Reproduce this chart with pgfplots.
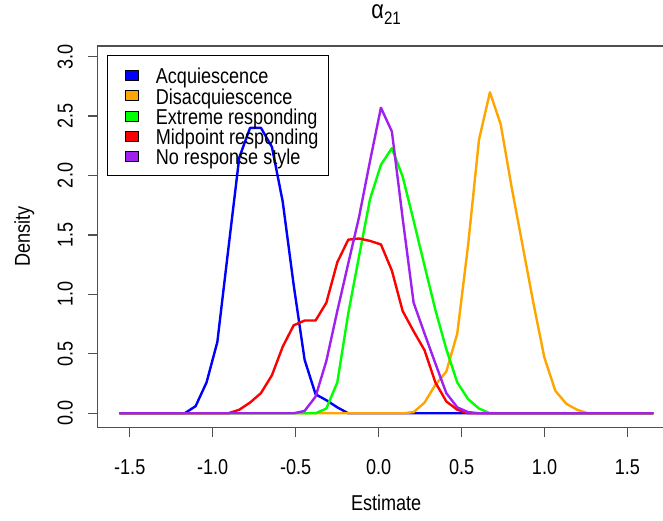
\documentclass[border=0pt]{standalone}
\usepackage{fontspec}
\setmainfont{Liberation Sans}[FakeStretch=0.84]
\usepackage{pgfplots}
\pgfplotsset{compat=1.18}
\usepackage{pgfplotstable}

\definecolor{rblue}{RGB}{0,0,255}
\definecolor{rorange}{RGB}{255,165,0}
\definecolor{rgreen}{RGB}{0,255,0}
\definecolor{rred}{RGB}{255,0,0}
\definecolor{rpurple}{RGB}{160,32,240}
\definecolor{framegray}{RGB}{80,80,80}

\newcommand\fs{\fontsize{21.5pt}{25pt}\selectfont}

% posterior density of alpha_21 under each response-style condition
\pgfplotstableread{
x      acq   dis   ext   mid   none
-1.563 0     0     0     0     0
-1.497 0     0     0     0     0
-1.431 0     0     0     0     0
-1.366 0     0     0     0     0
-1.300 0     0     0     0     0
-1.234 0     0     0     0     0
-1.169 0     0     0     0     0
-1.103 0.06  0     0     0     0
-1.037 0.26  0     0     0     0
-0.972 0.60  0     0     0     0
-0.906 1.38  0     0     0     0
-0.840 2.15  0     0     0.03  0
-0.775 2.40  0     0     0.09  0
-0.709 2.40  0     0     0.17  0
-0.643 2.24  0     0     0.32  0
-0.578 1.78  0     0     0.56  0
-0.512 1.08  0     0     0.74  0
-0.446 0.45  0     0     0.78  0.02
-0.380 0.16  0     0     0.78  0.14
-0.315 0.11  0     0.04  0.93  0.44
-0.249 0.05  0     0.26  1.27  0.86
-0.183 0     0     0.84  1.46  1.26
-0.118 0     0     1.32  1.47  1.65
-0.052 0     0     1.80  1.45  2.12
 0.014 0     0     2.09  1.42  2.57
 0.080 0     0     2.23  1.20  2.37
 0.145 0     0     1.99  0.86  1.64
 0.211 0     0.01  1.62  0.69  0.93
 0.277 0     0.09  1.24  0.53  0.67
 0.342 0     0.24  0.87  0.26  0.42
 0.408 0     0.35  0.54  0.10  0.17
 0.474 0     0.67  0.26  0.03  0.05
 0.539 0     1.41  0.12  0     0.01
 0.605 0     2.30  0.04  0     0
 0.671 0     2.70  0     0     0
 0.736 0     2.43  0     0     0
 0.802 0     1.90  0     0     0
 0.868 0     1.41  0     0     0
 0.934 0     0.92  0     0     0
 0.999 0     0.47  0     0     0
 1.065 0     0.19  0     0     0
 1.131 0     0.08  0     0     0
 1.196 0     0.03  0     0     0
 1.262 0     0     0     0     0
 1.328 0     0     0     0     0
 1.393 0     0     0     0     0
 1.459 0     0     0     0     0
 1.525 0     0     0     0     0
 1.590 0     0     0     0     0
 1.656 0     0     0     0     0
}\dens

\pgfplotsset{
  sq legend/.style={legend image code/.code={%
      \path[draw=none] (-7.7pt,0pt) -- (13pt,0pt);
      \draw[draw=black, line width=0.8pt, fill=#1] (0pt,-5.6pt) rectangle (13pt,4.4pt);}},
  curve/.style={color=#1, line width=2.4pt, line join=round, sq legend=#1},
}

\begin{document}
\begin{tikzpicture}
\begin{axis}[
  name=ax,
  scale only axis, width=577.1pt, height=381.2pt,
  xmin=-1.6938, xmax=1.7848, ymin=-0.117, ymax=3.089,
  axis line style={framegray, line width=1.2pt},
  tick style={framegray, line width=1.2pt},
  major tick length=10pt, tick align=outside, tick pos=left,
  xtick={-1.5,-1,-0.5,0,0.5,1,1.5},
  xticklabels={-1.5,-1.0,-0.5,0.0,0.5,1.0,1.5},
  ytick={0,0.5,1,1.5,2,2.5,3},
  yticklabels={0.0,0.5,1.0,1.5,2.0,2.5,3.0},
  tick label style={font=\fs, inner sep=0pt},
  xticklabel style={anchor=base, yshift=-36.8pt},
  yticklabel style={xshift=-14.9pt, rotate=90, anchor=base},
  xlabel={Estimate}, ylabel={Density},
  label style={font=\fs, inner sep=0pt},
  xlabel style={at={([yshift=-82.8pt]axis description cs:0.5,0)}, anchor=base},
  ylabel style={at={([xshift=-67.6pt]axis description cs:0,0.5)}, anchor=base},
  title={α\raisebox{-6pt}{\fontsize{18pt}{18pt}\selectfont 21}},
  title style={at={([yshift=21pt]axis description cs:0.5,1)}, anchor=base,
    inner sep=0pt, font=\fontsize{25.8pt}{28pt}\selectfont},
  legend cell align=left,
  legend style={at={([xshift=9.7pt,yshift=-9pt]axis description cs:0,1)},
    anchor=north west, draw=black, line width=1pt, fill=none,
    inner xsep=10pt, inner ysep=9.5pt, font=\fs, row sep=0pt,
    nodes={inner sep=0pt, text height=19pt, text depth=1.2pt},
    /tikz/every odd column/.append style={column sep=17pt}},
]
\addplot[curve=rblue]   table[x=x, y=acq]  {\dens};
\addlegendentry{Acquiescence}
\addplot[curve=rorange] table[x=x, y=dis]  {\dens};
\addlegendentry{Disacquiescence}
\addplot[curve=rgreen]  table[x=x, y=ext]  {\dens};
\addlegendentry{Extreme responding}
\addplot[curve=rred]    table[x=x, y=mid]  {\dens};
\addlegendentry{Midpoint responding}
\addplot[curve=rpurple] table[x=x, y=none] {\dens};
\addlegendentry{No response style}
\end{axis}
\pgfresetboundingbox
\path[use as bounding box] ([xshift=-97.6pt,yshift=-92.8pt]ax.south west) rectangle ++(663pt,520pt);
\end{tikzpicture}
\end{document}
